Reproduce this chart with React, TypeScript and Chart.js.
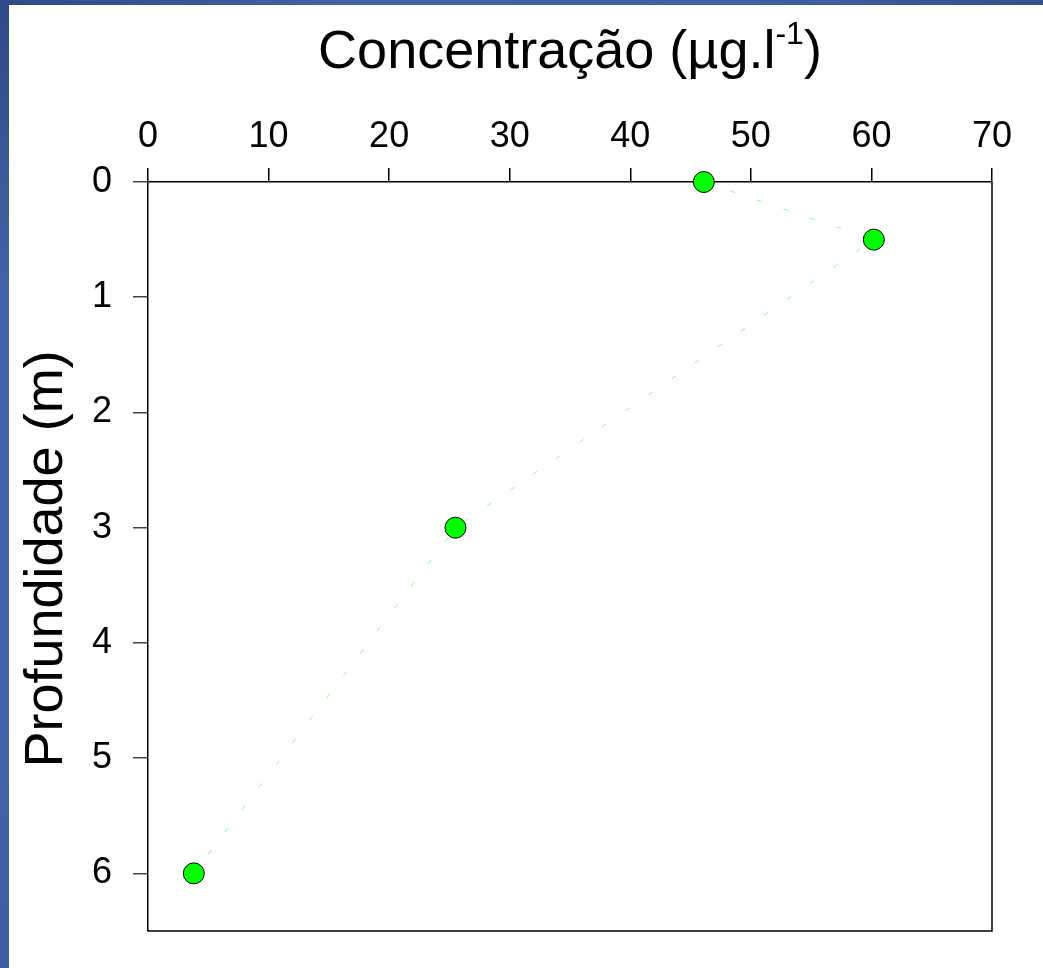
import { useEffect, useRef } from "react";
import { Chart, registerables } from "chart.js";

Chart.register(...registerables);

// Measured profile: concentration (µg/l) against depth (m)
const depthM = [0, 0.5, 3, 6];
const concentration = [46.1, 60.2, 25.5, 3.8];

const concentrationTicks = [0, 10, 20, 30, 40, 50, 60, 70];
const depthTicks = [0, 1, 2, 3, 4, 5, 6];

const xTitle = "Concentração (µg.l";
const xTitleSup = "-1";
const xTitleEnd = ")";
const yTitle = "Profundidade (m)";

const FONT = '"Liberation Sans", Arial, Helvetica, sans-serif';
const W = 1043;
const H = 968;

// Right/bottom frame of the plot box plus the two axis titles
const framePlugin = {
  id: "frameAndTitles",
  beforeDatasetsDraw(chart: any) {
    const { ctx, chartArea: a } = chart;
    ctx.save();
    ctx.strokeStyle = "#000";
    ctx.lineWidth = 1.5;
    ctx.beginPath();
    ctx.moveTo(a.right, a.top);
    ctx.lineTo(a.right, a.bottom);
    ctx.lineTo(a.left, a.bottom);
    ctx.stroke();
    ctx.restore();
  },
  afterDraw(chart: any) {
    const { ctx, chartArea: a } = chart;
    ctx.save();
    ctx.fillStyle = "#000";
    ctx.textAlign = "left";
    ctx.textBaseline = "alphabetic";

    // top title with superscript exponent
    const big = `54px ${FONT}`;
    const small = `32px ${FONT}`;
    ctx.font = big;
    const w1 = ctx.measureText(xTitle).width;
    const w3 = ctx.measureText(xTitleEnd).width;
    ctx.font = small;
    const w2 = ctx.measureText(xTitleSup).width;
    let x = (a.left + a.right) / 2 - (w1 + w2 + w3) / 2;
    const base = 68;
    ctx.font = big;
    ctx.fillText(xTitle, x, base);
    x += w1;
    ctx.font = small;
    ctx.fillText(xTitleSup, x, base - 24);
    x += w2;
    ctx.font = big;
    ctx.fillText(xTitleEnd, x, base);

    // rotated left title
    ctx.translate(62, 559);
    ctx.rotate(-Math.PI / 2);
    ctx.textAlign = "center";
    ctx.font = big;
    ctx.fillText(yTitle, 0, 0);
    ctx.restore();
  },
};

export default function App() {
  const canvasRef = useRef<HTMLCanvasElement | null>(null);

  useEffect(() => {
    const canvas = canvasRef.current;
    if (!canvas) return;
    const points = concentration.map((c, i) => ({ x: c, y: depthM[i] }));

    const chart = new Chart(canvas, {
      type: "scatter",
      data: {
        datasets: [
          {
            data: points,
            showLine: true,
            borderColor: "#8cff8c",
            borderWidth: 1,
            borderDash: [5, 23],
            pointRadius: 10.5,
            pointHoverRadius: 10.5,
            pointBackgroundColor: "#00ff00",
            pointBorderColor: "#000",
            pointBorderWidth: 1,
            clip: false as any,
          },
        ],
      },
      options: {
        responsive: false,
        animation: false,
        devicePixelRatio: 1,
        events: [],
        layout: { padding: { top: 0, left: 0, right: W - 992, bottom: H - 931 } },
        plugins: {
          legend: { display: false },
          tooltip: { enabled: false },
        },
        scales: {
          x: {
            type: "linear",
            position: "top",
            min: 0,
            max: 70,
            afterBuildTicks: (scale: any) => {
              scale.ticks = concentrationTicks.map((v) => ({ value: v }));
            },
            afterFit: (scale: any) => {
              scale.height = 182;
            },
            grid: {
              drawOnChartArea: false,
              drawTicks: true,
              tickLength: 14,
              color: "#000",
              lineWidth: 1.5,
            },
            border: { display: true, color: "#000", width: 1.5 },
            ticks: {
              color: "#000",
              padding: 9,
              maxRotation: 0,
              font: { family: FONT, size: 36 },
            },
          },
          y: {
            type: "linear",
            reverse: true,
            min: 0,
            max: 6.5,
            afterBuildTicks: (scale: any) => {
              scale.ticks = depthTicks.map((v) => ({ value: v }));
            },
            afterFit: (scale: any) => {
              scale.width = 148;
            },
            grid: {
              drawOnChartArea: false,
              drawTicks: true,
              tickLength: 15,
              color: "#444",
              lineWidth: 1.5,
            },
            border: { display: true, color: "#000", width: 1.5 },
            ticks: {
              color: "#000",
              padding: 21,
              font: { family: FONT, size: 36, lineHeight: 0.8 },
            },
          },
        },
      },
      plugins: [framePlugin],
    });

    return () => chart.destroy();
  }, []);

  return (
    <div
      style={{
        position: "absolute",
        left: 0,
        top: 0,
        width: W,
        height: H,
        overflow: "hidden",
        background: "#fff",
      }}
    >
      <canvas
        ref={canvasRef}
        width={W}
        height={H}
        style={{ position: "absolute", left: 0, top: 0, width: W, height: H }}
      />
      <div
        style={{
          position: "absolute",
          left: 0,
          top: 0,
          width: W,
          height: 5,
          background:
            "linear-gradient(to right, #2f4989 0%, #4462a7 35%, #3f5ea2 75%, #33508e 100%)",
        }}
      />
      <div
        style={{
          position: "absolute",
          left: 0,
          top: 0,
          width: 9,
          height: H,
          background:
            "linear-gradient(to bottom, #2f4989 0%, #4462a7 30%, #4462a7 75%, #3f5ea2 100%)",
        }}
      />
    </div>
  );
}
